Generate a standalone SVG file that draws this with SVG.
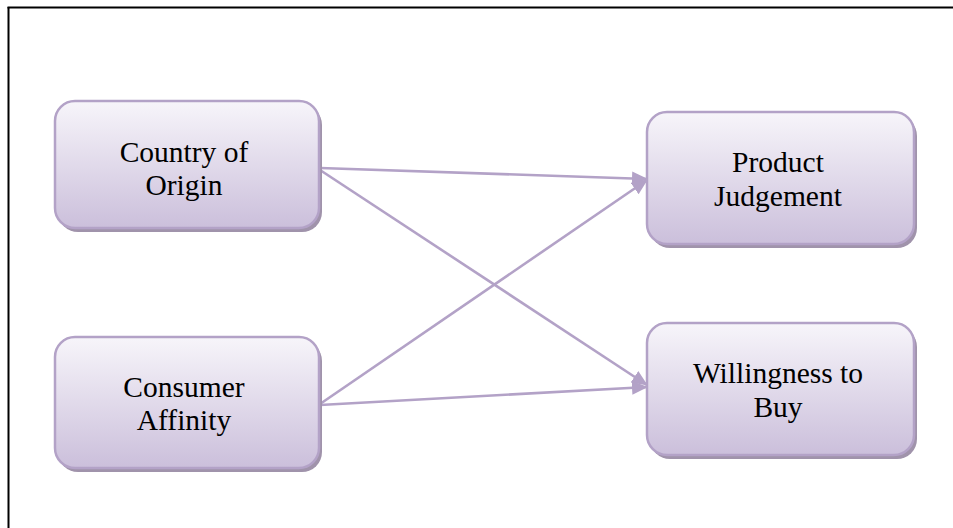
<svg xmlns="http://www.w3.org/2000/svg" width="953" height="528" viewBox="0 0 953 528">
<style>
.box{stroke:#b3a2c7;stroke-width:2.5;fill:url(#g)}
.shadow{fill:#a093ab}
.lbl{font-family:"Liberation Serif","Times New Roman",serif;font-size:29.5px;fill:#000;text-anchor:middle}
.conn{stroke:#b3a2c7;stroke-width:2.6;fill:none;marker-end:url(#arr)}
</style>
<defs>
<linearGradient id="g" x1="0" y1="0" x2="0" y2="1">
<stop offset="0" stop-color="#f7f5fa"/>
<stop offset="1" stop-color="#cbbfdb"/>
</linearGradient>
<marker id="arr" markerUnits="userSpaceOnUse" markerWidth="16" markerHeight="16" viewBox="0 0 16 16" refX="15" refY="8" orient="auto">
<path d="M0,1 L16,8 L0,15 Z" fill="#b3a2c7"/>
</marker>
</defs>
<g id="frame">
<line x1="7.5" y1="7.5" x2="953" y2="7.5" stroke="#000" stroke-width="2"/>
<line x1="8.5" y1="7" x2="8.5" y2="528" stroke="#000" stroke-width="2"/>
</g>
<g id="connectors">
<line class="conn" x1="320" y1="168" x2="647" y2="179"/>
<line class="conn" x1="320" y1="170" x2="647" y2="385"/>
<line class="conn" x1="320" y1="404" x2="647" y2="180"/>
<line class="conn" x1="320" y1="405" x2="647" y2="387"/>
</g>
<g id="country-of-origin">
<rect class="shadow" x="58" y="105" width="264" height="127" rx="20"/>
<rect class="box" x="55" y="101" width="264" height="127" rx="20"/>
<text class="lbl" x="184" y="162">Country of</text>
<text class="lbl" x="184" y="195">Origin</text>
</g>
<g id="product-judgement">
<rect class="shadow" x="650" y="116" width="267" height="132" rx="20"/>
<rect class="box" x="647" y="112" width="267" height="132" rx="20"/>
<text class="lbl" x="778" y="172">Product</text>
<text class="lbl" x="778" y="206">Judgement</text>
</g>
<g id="consumer-affinity">
<rect class="shadow" x="58" y="341" width="264" height="131" rx="20"/>
<rect class="box" x="55" y="337" width="264" height="131" rx="20"/>
<text class="lbl" x="184" y="397">Consumer</text>
<text class="lbl" x="184" y="430">Affinity</text>
</g>
<g id="willingness-to-buy">
<rect class="shadow" x="650" y="327" width="267" height="132" rx="20"/>
<rect class="box" x="647" y="323" width="267" height="132" rx="20"/>
<text class="lbl" x="778" y="383">Willingness to</text>
<text class="lbl" x="778" y="417">Buy</text>
</g>
</svg>
